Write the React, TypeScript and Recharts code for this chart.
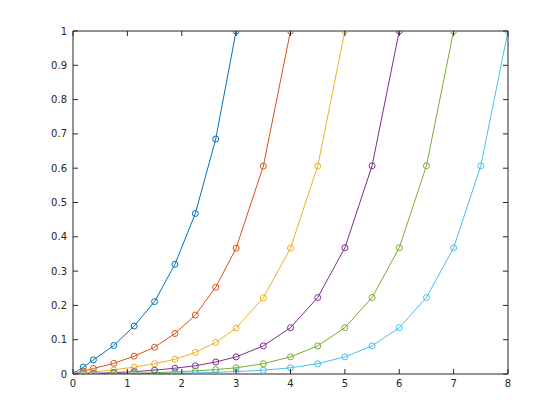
import React from 'react';
import { LineChart, Line, XAxis, YAxis } from 'recharts';

const xGrid = [0, 0.1875, 0.375, 0.75, 1.125, 1.5, 1.875, 2.25, 2.625, 3, 3.5, 4, 4.5, 5, 5.5, 6, 6.5, 7, 7.5, 8];

const s1 = [0, 0.02, 0.041, 0.083, 0.14, 0.211, 0.32, 0.468, 0.685, 1];
const s2 = [0, 0.008, 0.016, 0.031, 0.052, 0.078, 0.118, 0.172, 0.253, 0.367, 0.606, 1];
const s3 = [0, 0.003, 0.006, 0.012, 0.02, 0.03, 0.043, 0.063, 0.092, 0.134, 0.222, 0.367, 0.606, 1];
const s4 = [0, 0.001, 0.002, 0.004, 0.007, 0.011, 0.017, 0.024, 0.035, 0.05, 0.082, 0.135, 0.223, 0.368, 0.607, 1];
const s5 = [0, 0.0005, 0.001, 0.0015, 0.0025, 0.004, 0.006, 0.009, 0.013, 0.018, 0.03, 0.05, 0.082, 0.135, 0.223, 0.368, 0.607, 1];
const s6 = [0, 0.0002, 0.0004, 0.0007, 0.001, 0.0015, 0.002, 0.003, 0.005, 0.007, 0.011, 0.018, 0.03, 0.05, 0.082, 0.135, 0.223, 0.368, 0.607, 1];

const seriesValues = [s1, s2, s3, s4, s5, s6];
const seriesColors = ['#0072BD', '#D95319', '#EDB120', '#7E2F8E', '#77AC30', '#4DBEEE'];

const xTicks = [0, 1, 2, 3, 4, 5, 6, 7, 8];
const yTicks = [0, 0.1, 0.2, 0.3, 0.4, 0.5, 0.6, 0.7, 0.8, 0.9, 1];
const yTickLabels = ['0', '0.1', '0.2', '0.3', '0.4', '0.5', '0.6', '0.7', '0.8', '0.9', '1'];

const seriesData = seriesValues.map((vals) => vals.map((y, i) => ({ x: xGrid[i], y })));

const AX = '#262626';
const FONT = 'DejaVu Sans, sans-serif';
const M = 6;
const TL = 5;

const BottomTick = (props: any) => {
  const { x, y, payload } = props;
  return (
    <g>
      <line x1={x} x2={x} y1={y - M} y2={y - M - TL} stroke={AX} strokeWidth={1} />
      <text x={x} y={y} dy="0.71em" textAnchor="middle" fill={AX} fontSize={10} fontFamily={FONT}>
        {String(payload.value)}
      </text>
    </g>
  );
};

const LeftTick = (props: any) => {
  const { x, y, payload, index } = props;
  const idx = yTicks.indexOf(payload.value);
  const label = idx >= 0 ? yTickLabels[idx] : String(payload.value);
  return (
    <g>
      <line x1={x + M} x2={x + M + TL} y1={y} y2={y} stroke={AX} strokeWidth={1} />
      <text x={x} y={y} dy="0.355em" textAnchor="end" fill={AX} fontSize={10} fontFamily={FONT}>
        {label}
      </text>
    </g>
  );
};

const TopTick = (props: any) => {
  const { x, y } = props;
  return <line x1={x} x2={x} y1={y} y2={y + TL} stroke={AX} strokeWidth={1} />;
};

const RightTick = (props: any) => {
  const { x, y } = props;
  return <line x1={x} x2={x - TL} y1={y} y2={y} stroke={AX} strokeWidth={1} />;
};

export default function App() {
  return (
    <div style={{ position: 'absolute', left: 0, top: 0, width: 560, height: 420, background: '#fff' }}>
      <LineChart width={560} height={420} margin={{ top: 21, right: 42, bottom: 0, left: 0 }}>
        <XAxis
          xAxisId="b"
          dataKey="x"
          type="number"
          domain={[0, 8]}
          ticks={xTicks}
          allowDataOverflow
          orientation="bottom"
          height={46}
          tickSize={0}
          tickMargin={M}
          tickLine={false}
          axisLine={{ stroke: AX, strokeWidth: 1 }}
          tick={<BottomTick />}
          interval={0}
        />
        <XAxis
          xAxisId="t"
          dataKey="x"
          type="number"
          domain={[0, 8]}
          ticks={xTicks}
          allowDataOverflow
          orientation="top"
          height={10}
          tickSize={0}
          tickMargin={0}
          tickLine={false}
          axisLine={{ stroke: AX, strokeWidth: 1 }}
          tick={<TopTick />}
          interval={0}
        />
        <YAxis
          yAxisId="l"
          type="number"
          domain={[0, 1]}
          ticks={yTicks}
          allowDataOverflow
          orientation="left"
          width={73}
          tickSize={0}
          tickMargin={M}
          tickLine={false}
          axisLine={{ stroke: AX, strokeWidth: 1 }}
          tick={<LeftTick />}
          interval={0}
        />
        <YAxis
          yAxisId="r"
          type="number"
          domain={[0, 1]}
          ticks={yTicks}
          allowDataOverflow
          orientation="right"
          width={10}
          tickSize={0}
          tickMargin={0}
          tickLine={false}
          axisLine={{ stroke: AX, strokeWidth: 1 }}
          tick={<RightTick />}
          interval={0}
        />
        {seriesData.map((d, i) => (
          <Line
            key={i}
            xAxisId="b"
            yAxisId="l"
            data={d}
            dataKey="y"
            type="linear"
            stroke={seriesColors[i]}
            strokeWidth={1}
            dot={{ r: 3, fill: 'none', stroke: seriesColors[i], strokeWidth: 1 }}
            isAnimationActive={false}
          />
        ))}
      </LineChart>
    </div>
  );
}
